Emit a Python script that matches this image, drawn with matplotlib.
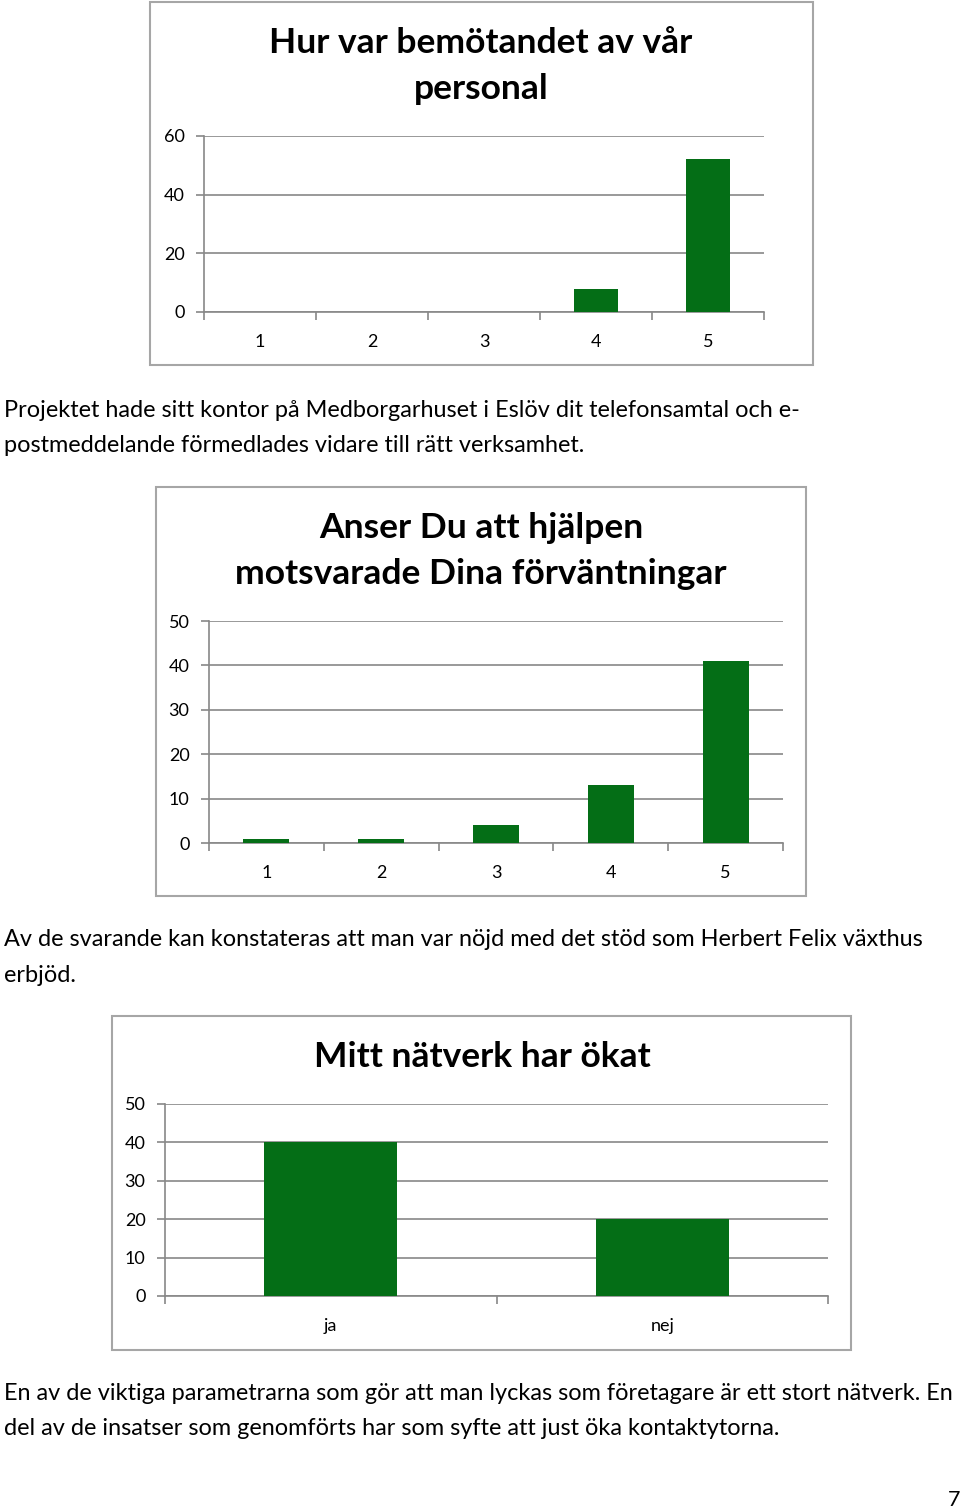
import matplotlib
matplotlib.use("Agg")
import matplotlib.pyplot as plt
from matplotlib.patches import Rectangle

W, H = 960, 1511
plt.rcParams['font.family'] = ['Lato', 'DejaVu Sans']

# ---- data ----
c1_title = ["Hur var bemötandet av vår", "personal"]
c1_cats = ["1", "2", "3", "4", "5"]
c1_vals = [0, 0, 0, 8, 52]
c1_yticks = [0, 20, 40, 60]

c2_title = ["Anser Du att hjälpen", "motsvarade Dina förväntningar"]
c2_cats = ["1", "2", "3", "4", "5"]
c2_vals = [1, 1, 4, 13, 41]
c2_yticks = [0, 10, 20, 30, 40, 50]

c3_title = ["Mitt nätverk har ökat"]
c3_cats = ["ja", "nej"]
c3_vals = [40, 20]
c3_yticks = [0, 10, 20, 30, 40, 50]

para1 = ["Projektet hade sitt kontor på Medborgarhuset i Eslöv dit telefonsamtal och e-",
         "postmeddelande förmedlades vidare till rätt verksamhet."]
para2 = ["Av de svarande kan konstateras att man var nöjd med det stöd som Herbert Felix växthus",
         "erbjöd."]
para3 = ["En av de viktiga parametrarna som gör att man lyckas som företagare är ett stort nätverk. En",
         "del av de insatser som genomförts har som syfte att just öka kontaktytorna."]
page_no = "7"

BAR = "#046e16"
GRID = "#888888"
BOX = "#a6a6a6"

fig = plt.figure(figsize=(W / 100, H / 100), dpi=100)
fig.patch.set_facecolor("white")


def fx(x):
    return x / W


def fy(y):
    return 1 - y / H


def box(x0, y0, x1, y1):
    fig.add_artist(Rectangle((fx(x0), fy(y1)), fx(x1) - fx(x0), fy(y0) - fy(y1),
                             transform=fig.transFigure, fill=False,
                             edgecolor=BOX, linewidth=1.5))


def chart(rect, cats, vals, yticks, title, title_y, title_x):
    l, r, t, b = rect
    ax = fig.add_axes([fx(l), fy(b), fx(r) - fx(l), fy(t) - fy(b)])
    n = len(cats)
    xs = list(range(n))
    ax.bar(xs, vals, width=0.4, color=BAR, zorder=3)
    ax.set_xlim(-0.5, n - 0.5)
    ax.set_ylim(yticks[0], yticks[-1])
    ax.set_yticks(yticks)
    ax.set_yticklabels([str(v) for v in yticks])
    ax.set_xticks(xs)
    ax.set_xticklabels(cats)
    ax.set_xticks([i - 0.5 for i in range(n + 1)], minor=True)
    ax.tick_params(axis='x', which='major', length=0, pad=16, labelsize=13)
    ax.tick_params(axis='x', which='minor', length=6, color=GRID, width=1.2)
    ax.tick_params(axis='y', length=6, color=GRID, width=1.2, pad=8, labelsize=13)
    ax.yaxis.grid(True, color=GRID, linewidth=1.2, zorder=0)
    for s in ['top', 'right']:
        ax.spines[s].set_visible(False)
    for s in ['left', 'bottom']:
        ax.spines[s].set_color(GRID)
        ax.spines[s].set_linewidth(1.2)
    ax.set_facecolor("none")
    for i, line in enumerate(title):
        fig.text(fx(title_x), fy(title_y + i * 46), line, ha='center', va='center',
                 fontsize=25.5, fontweight='bold', color="black")
    return ax


# chart 1
box(150, 2, 813, 365)
chart((204, 764, 136, 312), c1_cats, c1_vals, c1_yticks, c1_title, 43, 481)
# chart 2
box(156, 487, 806, 896)
chart((209, 783, 621, 843), c2_cats, c2_vals, c2_yticks, c2_title, 528, 481)
# chart 3
box(112, 1016, 851, 1350)
chart((165, 828, 1104, 1296), c3_cats, c3_vals, c3_yticks, c3_title, 1057, 482)


def para(lines, y0):
    for i, line in enumerate(lines):
        fig.text(fx(4), fy(y0 + i * 35.5), line, ha='left', va='center',
                 fontsize=16.9, color="black")


para(para1, 410)
para(para2, 940)
para(para3, 1393)
fig.text(fx(960), fy(1500), page_no, ha='right', va='center', fontsize=15.5)

fig.savefig("out.png", dpi=100, facecolor="white")
